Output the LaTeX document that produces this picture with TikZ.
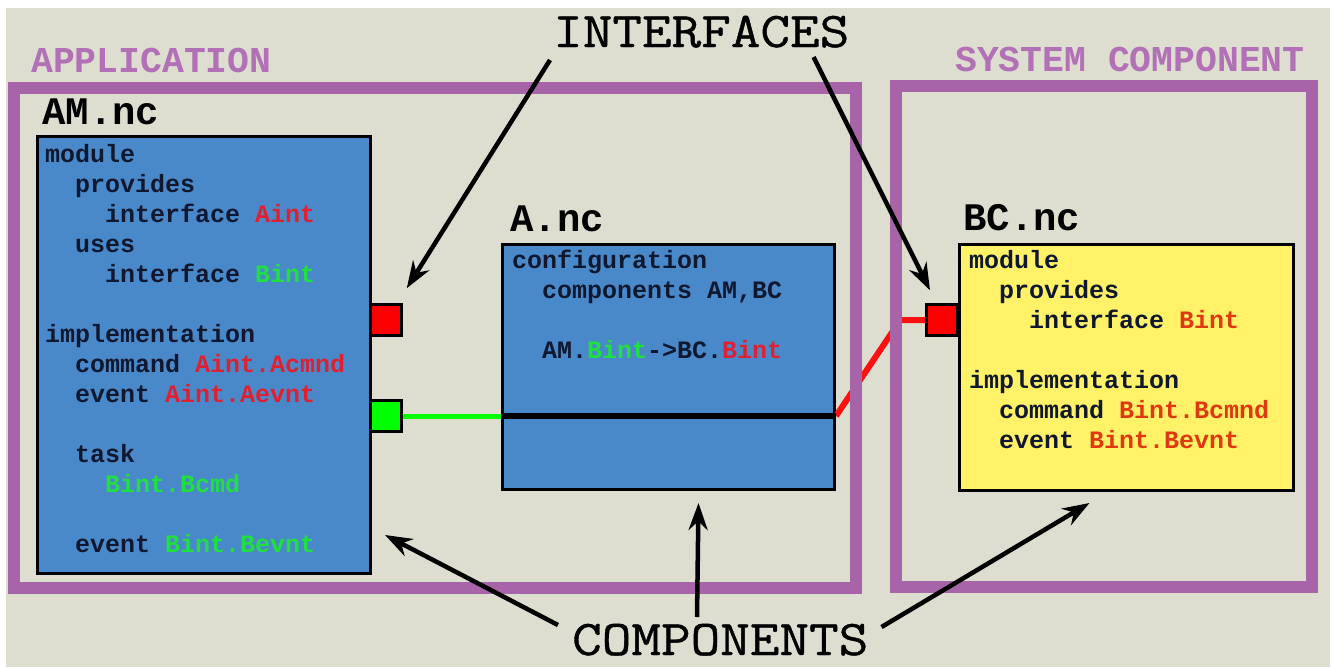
\documentclass[tikz,border=0pt]{standalone}
\usepackage{fontspec}
\newfontfamily\codefont{Liberation Mono}
\newfontfamily\capfont[FakeStretch=1.15,FakeBold=0.8]{Latin Modern Mono}
\usetikzlibrary{arrows.meta,positioning}

\definecolor{bgbeige}{RGB}{221,221,208}
\definecolor{frpurple}{RGB}{168,100,168}
\definecolor{lblpurple}{RGB}{178,112,182}
\definecolor{boxblue}{RGB}{74,137,201}
\definecolor{boxyellow}{RGB}{255,241,104}
\definecolor{codeink}{RGB}{16,24,48}
\definecolor{aintred}{RGB}{224,32,48}
\definecolor{bintgreen}{RGB}{32,224,64}
\definecolor{bcred}{RGB}{224,56,16}
\definecolor{sqred}{RGB}{250,0,0}
\definecolor{sqgreen}{RGB}{0,255,0}
\definecolor{wirered}{RGB}{255,16,16}

\newcommand\indt{\hspace*{30pt}}

\begin{document}
\begin{tikzpicture}
		[x=1pt,y=-1pt,
		compbox/.style={draw=black,line width=3pt,inner sep=0pt,anchor=north west},
		port/.style={draw=black,line width=2.5pt,minimum size=31pt,inner sep=0pt},
		code/.style={anchor=base west,inner sep=0pt,align=left,text=codeink,
			font=\codefont\bfseries\fontsize{25}{30}\selectfont},
		fname/.style={anchor=base west,inner sep=0pt,font=\codefont\bfseries\fontsize{39}{39}\selectfont},
		grouplbl/.style={anchor=base west,inner sep=0pt,text=lblpurple,
			font=\codefont\bfseries\fontsize{36.4}{37}\selectfont},
		caption/.style={anchor=base west,inner sep=0pt,font=\capfont\fontsize{50}{50}\selectfont},
		frame/.style={draw=frpurple,line width=12pt},
		pointer/.style={-{Stealth[length=27pt,width=19pt]},line width=4.5pt}]
		\useasboundingbox (0,0) rectangle (1330,667);
		% background
		\fill[white] (0,0) rectangle (1330,667);
		\fill[bgbeige] (6,8) rectangle (1330,667);

		% the three components
		\node[compbox,fill=boxblue,minimum width=333pt,minimum height=437pt] (am) at (36,135) {};
		\node[compbox,fill=boxblue,minimum width=332pt,minimum height=245pt] (a) at (501,243) {};
		\node[compbox,fill=boxyellow,minimum width=334pt,minimum height=246pt] (bc) at (958,243) {};

		% interface ports
		\node[port,fill=sqred] (amred) at (386,320) {};
		\node[port,fill=sqgreen] (amgreen) at (386,416) {};
		\node[port,fill=sqred] (bcred) at (942,320) {};

		% wiring, the red one runs under the frames
		\draw[wirered,line width=6pt] (a.east |- amgreen) -- ([xshift=-25pt]bcred.west) -- (bcred.west);
		\draw[sqgreen,line width=5pt] (amgreen.east) -- (a.west |- amgreen);
		\draw[black,line width=6pt] (a.west |- amgreen) -- (a.east |- amgreen);

		% application and system frames
		\draw[frame] (14,88) rectangle (856,588);
		\draw[frame] (896,86) rectangle (1312,587);
		\node[grouplbl] (applbl) at (31,72) {APPLICATION};
		\node[grouplbl] (syslbl) at (955,71) {SYSTEM COMPONENT};

		% file names
		\node[fname] (amname) at (42,124) {AM.nc};
		\node[fname] (aname) at (510,231) {A.nc};
		\node[fname] (bcname) at (963,230) {BC.nc};

		% source code (base is the last line)
		\node[code] (amcode) at (45,552) {module\\
			\indt provides\\
			\indt\indt interface \textcolor{aintred}{Aint}\\
			\indt uses\\
			\indt\indt interface \textcolor{bintgreen}{Bint}\\[30pt]
			implementation\\
			\indt command \textcolor{aintred}{Aint.Acmnd}\\
			\indt event \textcolor{aintred}{Aint.Aevnt}\\[30pt]
			\indt task\\
			\indt\indt \textcolor{bintgreen}{Bint.Bcmd}\\[30pt]
			\indt event \textcolor{bintgreen}{Bint.Bevnt}};
		\node[code] (acode) at (512,358) {configuration\\
			\indt components AM,BC\\[30pt]
			\indt AM.\textcolor{bintgreen}{Bint}->BC.\textcolor{aintred}{Bint}};
		\node[code] (bccode) at (969,448) {module\\
			\indt provides\\
			\indt\indt interface \textcolor{bcred}{Bint}\\[30pt]
			implementation\\
			\indt command \textcolor{bcred}{Bint.Bcmnd}\\
			\indt event \textcolor{bcred}{Bint.Bevnt}};

		% captions and their pointers
		\node[caption] (iface) at (553,47) {INTERFACES};
		\node[caption] (comps) at (572,655) {COMPONENTS};
		\draw[pointer] ([shift={(-3,13)}]iface.base west) -- ([shift={(4,-15)}]amred.north east);
		\draw[pointer] ([shift={(-36,10)}]iface.base east) -- ([shift={(-12,-13)}]bcred.north);
		\draw[pointer] ([shift={(-14,-30)}]comps.base west) -- ([shift={(13,-40)}]am.south east);
		\draw[pointer] ([shift={(125,-38)}]comps.base west) -- ([shift={(30,12)}]a.south);
		\draw[pointer] ([shift={(13,-28)}]comps.base east) -- ([shift={(-37,11)}]bc.south);
	\end{tikzpicture}
\end{document}
